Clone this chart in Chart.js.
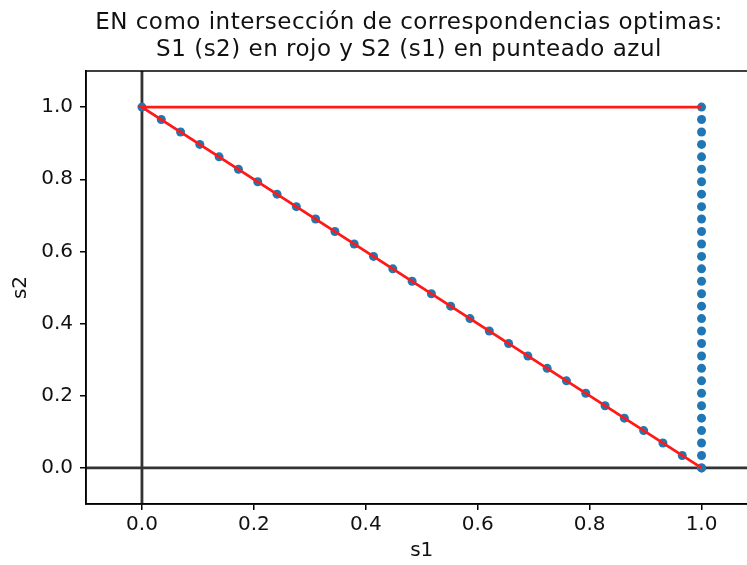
<!DOCTYPE html>
<html>
<head>
<meta charset="utf-8">
<script src="https://cdn.jsdelivr.net/npm/chart.js@4"></script>
<style>
  html, body { margin: 0; padding: 0; background: #fff; overflow: hidden; }
  #wrap { position: relative; width: 762px; height: 565px; }
  #title {
    position: absolute; left: 0; top: 8px; width: 818px;
    text-align: center; font-family: "DejaVu Sans", sans-serif;
    font-size: 23px; line-height: 26.5px; letter-spacing: 0.5px; color: #111;
  }
</style>
</head>
<body>
<div id="wrap">
  <canvas id="chart" width="762" height="565"></canvas>
  <div id="title">EN como intersección de correspondencias optimas:<br>S1 (s2) en rojo y S2 (s1) en punteado azul</div>
</div>
<script>
// ===== DATA =====
// S2 (s1): blue dots, diagonal part then vertical part at s1 = 1
const diagS1 = [0, 0.0345, 0.069, 0.1034, 0.1379, 0.1724, 0.2069, 0.2414, 0.2759, 0.3103,
                0.3448, 0.3793, 0.4138, 0.4483, 0.4828, 0.5172, 0.5517, 0.5862, 0.6207, 0.6552,
                0.6897, 0.7241, 0.7586, 0.7931, 0.8276, 0.8621, 0.8966, 0.931, 0.9655, 1];
const diagS2 = [1, 0.9655, 0.931, 0.8966, 0.8621, 0.8276, 0.7931, 0.7586, 0.7241, 0.6897,
                0.6552, 0.6207, 0.5862, 0.5517, 0.5172, 0.4828, 0.4483, 0.4138, 0.3793, 0.3448,
                0.3103, 0.2759, 0.2414, 0.2069, 0.1724, 0.1379, 0.1034, 0.069, 0.0345, 0];
const vertS1 = [1, 1, 1, 1, 1, 1, 1, 1, 1, 1, 1, 1, 1, 1, 1,
                1, 1, 1, 1, 1, 1, 1, 1, 1, 1, 1, 1, 1, 1, 1];
const vertS2 = [0, 0.0345, 0.069, 0.1034, 0.1379, 0.1724, 0.2069, 0.2414, 0.2759, 0.3103,
                0.3448, 0.3793, 0.4138, 0.4483, 0.4828, 0.5172, 0.5517, 0.5862, 0.6207, 0.6552,
                0.6897, 0.7241, 0.7586, 0.7931, 0.8276, 0.8621, 0.8966, 0.931, 0.9655, 1];

// S1 (s2): red line
const redS1 = [1, 0, 1];
const redS2 = [1, 1, 0];

// axis limits and ticks
const xLim = [-0.1, 1.1];
const yLim = [-0.1, 1.1];
const xTicks = [0, 0.2, 0.4, 0.6, 0.8, 1.0];
const yTicks = [0, 0.2, 0.4, 0.6, 0.8, 1.0];

const pts = (xs, ys) => xs.map((x, i) => ({ x: x, y: ys[i] }));

// ===== FRAME (top/right spines) =====
const frame = {
    id: 'frame',
    afterDraw(chart) {
        const { ctx, chartArea: a } = chart;
        ctx.save();
        ctx.strokeStyle = '#000';
        ctx.lineWidth = 1.5;
        ctx.strokeRect(a.left, a.top, a.right - a.left, a.bottom - a.top);
        ctx.restore();
    }
};

const tickFont = { family: 'DejaVu Sans', size: 20 };

new Chart(document.getElementById('chart'), {
    type: 'scatter',
    data: {
        datasets: [
            {
                label: 'S1 (s2)',
                data: pts(redS1, redS2),
                showLine: true,
                borderColor: '#ff1a1a',
                borderWidth: 2.8,
                pointRadius: 0,
                order: 0
            },
            {
                label: 'S2 (s1)',
                data: pts(diagS1.concat(vertS1), diagS2.concat(vertS2)),
                showLine: false,
                backgroundColor: '#1f77b4',
                borderWidth: 0,
                pointRadius: 4.5,
                order: 1
            },
            {
                label: 'x = 0',
                data: pts([0, 0], yLim),
                showLine: true,
                borderColor: '#333333',
                borderWidth: 2.8,
                pointRadius: 0,
                order: 2
            },
            {
                label: 'y = 0',
                data: pts(xLim, [0, 0]),
                showLine: true,
                borderColor: '#333333',
                borderWidth: 2.8,
                pointRadius: 0,
                order: 2
            }
        ]
    },
    options: {
        responsive: false,
        animation: false,
        devicePixelRatio: 1,
        layout: { padding: { top: 71, left: 0, right: 3, bottom: 0 } },
        plugins: {
            legend: { display: false },
            tooltip: { enabled: false }
        },
        scales: {
            x: {
                type: 'linear',
                min: xLim[0],
                max: xLim[1],
                afterBuildTicks: s => { s.ticks = xTicks.map(v => ({ value: v })); },
                afterFit: s => { s.height = 61; },
                grid: { drawOnChartArea: false, drawTicks: true, tickLength: 6, color: '#000', lineWidth: 1.5 },
                border: { color: '#000', width: 1.5 },
                ticks: { font: tickFont, color: '#111', padding: 3, maxRotation: 0, autoSkip: false,
                         callback: v => Number(v).toFixed(1) },
                title: { display: true, text: 's1', font: tickFont, color: '#111', padding: { top: 0, bottom: 2 } }
            },
            y: {
                type: 'linear',
                min: yLim[0],
                max: yLim[1],
                afterBuildTicks: s => { s.ticks = yTicks.map(v => ({ value: v })); },
                afterFit: s => { s.width = 86; },
                grid: { drawOnChartArea: false, drawTicks: true, tickLength: 6, color: '#000', lineWidth: 1.5 },
                border: { color: '#000', width: 1.5 },
                ticks: { font: tickFont, color: '#111', padding: 7, autoSkip: false,
                         callback: v => Number(v).toFixed(1) },
                title: { display: true, text: 's2', font: tickFont, color: '#111', padding: { top: 9, bottom: 0 } }
            }
        }
    },
    plugins: [frame]
});
</script>
</body>
</html>
